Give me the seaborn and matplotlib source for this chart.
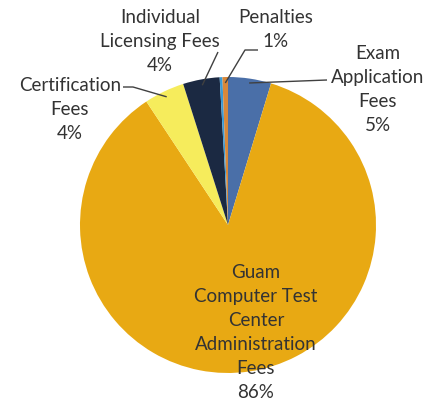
import numpy as np
import matplotlib
matplotlib.use("Agg")
import matplotlib.pyplot as plt
import seaborn as sns

# ---- data ----
categories = ["Exam\nApplication\nFees", "Guam\nComputer Test\nCenter\nAdministration\nFees",
              "Certification\nFees", "Individual\nLicensing Fees", "", "Penalties"]
values = [4.7, 86.0, 4.4, 4.0, 0.3, 0.6]
pct_labels = ["5%", "86%", "4%", "4%", "", "1%"]
colors = ["#4A6FA8", "#E8A913", "#F6EC5C", "#1B2942", "#3A9AD6", "#D8883A"]

sns.set_theme(style="white")
plt.rcParams['font.family'] = ['Lato', 'DejaVu Sans']

W, H = 438, 403
fig = plt.figure(figsize=(W / 100, H / 100), dpi=100)
cx, cy, r = 228, 225, 148
ax = fig.add_axes([(cx - r) / W, (H - cy - r) / H, 2 * r / W, 2 * r / H])
ax.set_aspect("equal")
ax.axis("off")

wedges, _ = ax.pie(values, colors=sns.color_palette(colors), startangle=90,
                   counterclock=False, radius=1, wedgeprops=dict(linewidth=0))
ax.set_xlim(-1, 1)
ax.set_ylim(-1, 1)


def px(x, y):
    return (x - cx) / r, (cy - y) / r


def mid(i, rad=1.0):
    w = wedges[i]
    a = np.deg2rad((w.theta1 + w.theta2) / 2)
    return rad * np.cos(a), rad * np.sin(a)


txt_kw = dict(ha="center", va="center", fontsize=13.5, color="#333333",
              linespacing=1.5)

# label positions (pixel) and leader elbows
label_pos = {0: (378, 90), 1: (256, 333), 2: (70, 110), 3: (160, 42), 5: (276, 30)}
elbows = {0: [(327, 80), (250, 79)], 2: [(123, 87), (133, 87)],
          3: [(218, 52)], 5: [(258, 50), (245, 50)]}

for i, (x, y) in label_pos.items():
    tx, ty = px(x, y)
    ax.text(tx, ty, categories[i] + "\n" + pct_labels[i], **txt_kw)

for i, pts in elbows.items():
    xs = [px(*p)[0] for p in pts]
    ys = [px(*p)[1] for p in pts]
    mx, my = mid(i, 0.96 if i != 0 else 0.97)
    if i == 0:
        xs = xs[:1] + [mx]
        ys = ys[:1] + [my]
    else:
        xs.append(mx)
        ys.append(my)
    ax.plot(xs, ys, color="#404040", lw=1.0, solid_capstyle="butt", clip_on=False)

fig.savefig("out.png", dpi=100)
